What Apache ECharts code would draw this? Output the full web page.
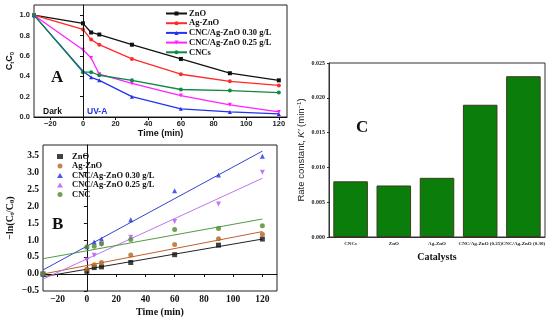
<!DOCTYPE html>
<html>
<head>
<meta charset="utf-8">
<script src="https://cdn.jsdelivr.net/npm/echarts@6/dist/echarts.min.js"></script>
<style>html,body{margin:0;padding:0;background:#fff}#c{width:550px;height:320px}</style>
</head>
<body>
<div id="c"></div>
<script>
// ---- Panel A: Ct/C0 vs time ----
const timeA = [-30, 0, 5, 10, 30, 60, 90, 120];
const znoA = [1.0, 0.92, 0.83, 0.81, 0.71, 0.57, 0.43, 0.36];
const agznoA = [1.0, 0.86, 0.76, 0.71, 0.57, 0.42, 0.35, 0.31];
const cnc030A = [1.0, 0.45, 0.39, 0.36, 0.20, 0.08, 0.05, 0.03];
const cnc025A = [1.0, 0.66, 0.58, 0.42, 0.33, 0.21, 0.12, 0.05];
const cncsA = [1.0, 0.44, 0.44, 0.41, 0.36, 0.27, 0.26, 0.24];
const xTicksA = [-20, 0, 20, 40, 60, 80, 100, 120];
const yTicksA = [0, 0.2, 0.4, 0.6, 0.8, 1.0];

// ---- Panel B: -ln(Ct/C0) vs time ----
const timeB = [-30, 0, 5, 10, 30, 60, 90, 120];
const znoB = [0.0, 0.08, 0.19, 0.21, 0.34, 0.57, 0.85, 1.03];
const agznoB = [0.0, 0.15, 0.27, 0.34, 0.56, 0.87, 1.04, 1.17];
const cnc030B = [0.0, 0.80, 0.94, 1.03, 1.60, 2.45, 2.92, 3.47];
const cnc025B = [0.0, 0.41, 0.55, 0.87, 1.08, 1.55, 2.06, 3.00];
const cncB = [0.0, 0.80, 0.82, 0.89, 1.02, 1.31, 1.34, 1.42];
const fitX = [-30, 120];
const fitZnO = [-0.08, 1.03];
const fitAgZnO = [0.0, 1.25];
const fitCnc030 = [0.12, 3.62];
const fitCnc025 = [-0.15, 2.82];
const fitCnc = [0.45, 1.62];
const xTicksB = [-20, 0, 20, 40, 60, 80, 100, 120];
const yTicksB = [-0.5, 0, 0.5, 1.0, 1.5, 2.0, 2.5, 3.0, 3.5];

// ---- Panel C: rate constants ----
const catalysts = ['CNCs', 'ZnO', 'Ag-ZnO', 'CNC/Ag-ZnO (0.25)', 'CNC/Ag-ZnO (0.30)'];
const rateK = [0.0080, 0.0074, 0.0085, 0.0190, 0.0231];

const SERIF = 'Liberation Serif';
const SANS = 'Liberation Sans';
const zip = (xs, ys) => xs.map((x, i) => [x, ys[i]]);

const chart = echarts.init(document.getElementById('c'), null, {renderer: 'canvas'});

const lineA = (name, data, color, symbol, rot) => ({
  name, type: 'line', xAxisIndex: 0, yAxisIndex: 0, data: zip(timeA, data),
  symbol, symbolSize: 4, symbolRotate: rot || 0, showSymbol: true,
  lineStyle: {color, width: 1.3}, itemStyle: {color}, animation: false
});
const scatB = (name, data, color, symbol, rot) => ({
  name, type: 'scatter', xAxisIndex: 1, yAxisIndex: 1, data: zip(timeB, data),
  symbol, symbolSize: 5, symbolRotate: rot || 0, itemStyle: {color}, animation: false, z: 3
});
const fitB = (name, data, color) => ({
  name, type: 'line', xAxisIndex: 1, yAxisIndex: 1, data: zip(fitX, data),
  symbol: 'none', lineStyle: {color, width: 1}, animation: false, z: 2
});

const option = {
  backgroundColor: '#fff',
  animation: false,
  grid: [
    {left: 34, top: 5, width: 253, height: 112, show: true, borderColor: '#222', borderWidth: 1, backgroundColor: 'transparent'},
    {left: 43, top: 145, width: 234, height: 146, show: true, borderColor: '#222', borderWidth: 1, backgroundColor: 'transparent'},
    {left: 329, top: 63, width: 216, height: 174, show: true, borderColor: '#333', borderWidth: 1, backgroundColor: 'transparent'}
  ],
  xAxis: [
    {gridIndex: 0, type: 'value', min: -30, max: 125,
     name: 'Time (min)', nameLocation: 'middle', nameGap: 12,
     nameTextStyle: {fontFamily: SANS, fontWeight: 'bold', fontSize: 9, color: '#111'},
     axisLine: {lineStyle: {color: '#111'}}, splitLine: {show: false},
     axisTick: {customValues: xTicksA, length: 3, lineStyle: {color: '#111'}},
     axisLabel: {customValues: xTicksA, fontFamily: SANS, fontWeight: 'bold', fontSize: 7.5, color: '#222', margin: 3,
       formatter: v => (v < 0 ? '\u2212' + (-v) : String(v))}},
    {gridIndex: 1, type: 'value', min: -30, max: 130,
     name: 'Time (min)', nameLocation: 'middle', nameGap: 16,
     nameTextStyle: {fontFamily: SERIF, fontWeight: 'bold', fontSize: 10, color: '#111'},
     axisLine: {lineStyle: {color: '#111'}}, splitLine: {show: false},
     axisTick: {customValues: xTicksB, length: 3, lineStyle: {color: '#111'}},
     axisLabel: {customValues: xTicksB, fontFamily: SERIF, fontWeight: 'bold', fontSize: 9.5, color: '#111', margin: 4,
       formatter: v => (v < 0 ? '\u2212' + (-v) : String(v))}},
    {gridIndex: 2, type: 'category', data: catalysts,
     name: 'Catalysts', nameLocation: 'middle', nameGap: 15,
     nameTextStyle: {fontFamily: SERIF, fontWeight: 'bold', fontSize: 10, color: '#111'},
     axisLine: {lineStyle: {color: '#333'}},
     axisTick: {length: 2, lineStyle: {color: '#333'}},
     axisLabel: {interval: 0, fontFamily: SERIF, fontWeight: 'bold', fontSize: 5, color: '#222', margin: 4}}
  ],
  yAxis: [
    {gridIndex: 0, type: 'value', min: 0, max: 1.1,
     name: 'C{s|t}C{s|0}', nameLocation: 'middle', nameGap: 19, nameRotate: 90,
     nameTextStyle: {fontFamily: SANS, fontWeight: 'bold', fontSize: 9, color: '#111',
       rich: {s: {fontFamily: SANS, fontWeight: 'bold', fontSize: 6, verticalAlign: 'bottom', padding: [5, 0, 0, 0]}}},
     axisLine: {lineStyle: {color: '#111'}}, splitLine: {show: false},
     axisTick: {customValues: yTicksA, length: 3, lineStyle: {color: '#111'}},
     axisLabel: {customValues: yTicksA, fontFamily: SANS, fontWeight: 'bold', fontSize: 7.5, color: '#222', margin: 4,
       formatter: v => v.toFixed(1)}},
    {gridIndex: 1, type: 'value', min: -0.5, max: 3.8,
     name: '\u2212ln(C{s|t}/C{s|0})', nameLocation: 'middle', nameGap: 27, nameRotate: 90,
     nameTextStyle: {fontFamily: SERIF, fontWeight: 'bold', fontSize: 10, color: '#111',
       rich: {s: {fontFamily: SERIF, fontWeight: 'bold', fontSize: 6.5, verticalAlign: 'bottom', padding: [5, 0, 0, 0]}}},
     axisLine: {lineStyle: {color: '#111'}}, splitLine: {show: false},
     axisTick: {customValues: yTicksB, length: 3, lineStyle: {color: '#111'}},
     axisLabel: {customValues: yTicksB, fontFamily: SERIF, fontWeight: 'bold', fontSize: 9.5, color: '#111', margin: 4,
       formatter: v => (v < 0 ? '\u2212' + (-v).toFixed(1) : v.toFixed(1))}},
    {gridIndex: 2, type: 'value', min: 0, max: 0.025, interval: 0.005,
     name: 'Rate constant, {i|K\u2032} (min{u|\u22121})', nameLocation: 'middle', nameGap: 22, nameRotate: 90,
     nameTextStyle: {fontFamily: SANS, fontSize: 9.5, color: '#222',
       rich: {i: {fontFamily: SANS, fontStyle: 'italic', fontSize: 9.5, color: '#222'},
              u: {fontFamily: SANS, fontSize: 6, color: '#222', verticalAlign: 'top', padding: [0, 0, 5, 0]}}},
     axisLine: {show: true, lineStyle: {color: '#333'}}, splitLine: {show: false},
     axisTick: {show: true, length: 2, lineStyle: {color: '#333'}},
     axisLabel: {fontFamily: SERIF, fontWeight: 'bold', fontSize: 6, color: '#222', margin: 4,
       formatter: v => v.toFixed(3)}}
  ],
  legend: [
    {orient: 'vertical', left: 160, top: 4, itemWidth: 21, itemHeight: 5, itemGap: 0.7,
     data: ['ZnO', 'Ag-ZnO', 'CNC/Ag-ZnO 0.30 g/L', 'CNC/Ag-ZnO 0.25 g/L', 'CNCs'],
     textStyle: {fontFamily: SERIF, fontWeight: 'bold', fontSize: 8.5, lineHeight: 7, color: '#111', padding: [0, 0, 0, -3]}},
    {orient: 'vertical', left: 52, top: 147, itemWidth: 6, itemHeight: 5, itemGap: 0.5,
     data: ['ZnO ', 'Ag-ZnO ', 'CNC/Ag-ZnO 0.30 g/L ', 'CNC/Ag-ZnO 0.25 g/L ', 'CNC'],
     textStyle: {fontFamily: SERIF, fontWeight: 'bold', fontSize: 8.5, lineHeight: 7, color: '#111', padding: [0, 0, 0, 4]}}
  ],
  graphic: [
    {type: 'text', left: 51, top: 69, style: {text: 'A', font: 'bold 17px "Liberation Serif"', fill: '#111'}},
    {type: 'text', left: 43, top: 107, style: {text: 'Dark', font: 'bold 8.5px "Liberation Sans"', fill: '#111'}},
    {type: 'text', left: 87, top: 107, style: {text: 'UV-A', font: 'bold 8.5px "Liberation Sans"', fill: '#2233dd'}},
    {type: 'text', left: 52, top: 216, style: {text: 'B', font: 'bold 17px "Liberation Serif"', fill: '#111'}},
    {type: 'text', left: 356, top: 119, style: {text: 'C', font: 'bold 17px "Liberation Serif"', fill: '#111'}}
  ],
  series: [
    Object.assign(lineA('ZnO', znoA, '#111111', 'rect'), {
      markLine: {silent: true, symbol: 'none', label: {show: false},
        lineStyle: {color: '#111', width: 1, type: 'solid'}, data: [{xAxis: 0}]}}),
    lineA('Ag-ZnO', agznoA, '#ff2a2a', 'circle'),
    lineA('CNC/Ag-ZnO 0.30 g/L', cnc030A, '#2233ee', 'triangle'),
    lineA('CNC/Ag-ZnO 0.25 g/L', cnc025A, '#ff22ff', 'triangle', 180),
    lineA('CNCs', cncsA, '#118844', 'circle'),
    fitB('fit ZnO', fitZnO, '#222222'),
    fitB('fit Ag-ZnO', fitAgZnO, '#c0602a'),
    fitB('fit 0.30', fitCnc030, '#3344cc'),
    fitB('fit 0.25', fitCnc025, '#bb77ee'),
    fitB('fit CNC', fitCnc, '#55994a'),
    scatB('ZnO ', znoB, '#111111', 'rect'),
    scatB('Ag-ZnO ', agznoB, '#b8651e', 'circle'),
    scatB('CNC/Ag-ZnO 0.30 g/L ', cnc030B, '#2233dd', 'triangle'),
    scatB('CNC/Ag-ZnO 0.25 g/L ', cnc025B, '#b455ee', 'triangle', 180),
    scatB('CNC', cncB, '#4f8a2a', 'circle'),
    {name: 'Rate', type: 'bar', xAxisIndex: 2, yAxisIndex: 2, data: rateK, barWidth: '80%',
     itemStyle: {color: '#0a7d0a', borderColor: '#3d3d1e', borderWidth: 1}, animation: false}
  ]
};
chart.setOption(option);
</script>
</body>
</html>
